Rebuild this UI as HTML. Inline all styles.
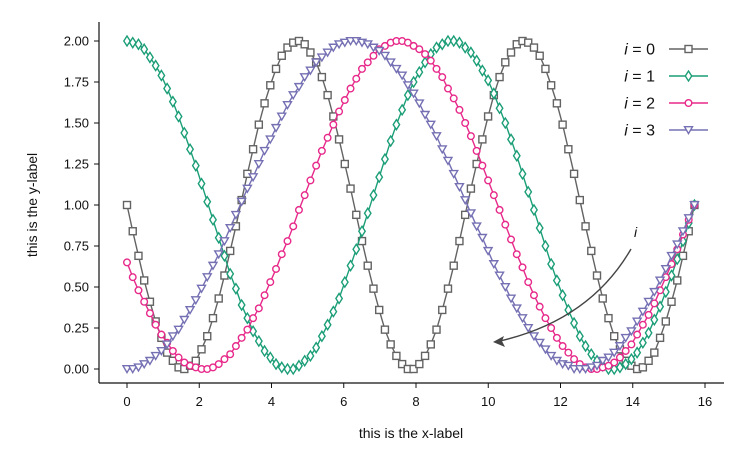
<!DOCTYPE html>
<html><head><meta charset="utf-8"><style>
body{margin:0;background:#fff;}
svg text{font-family:"Liberation Sans",sans-serif;fill:#111;}
</style></head><body>
<svg id="chart" width="750" height="463" viewBox="0 0 750 463" xmlns="http://www.w3.org/2000/svg">
<g id="axes"></g>
<g id="series"></g>
<g id="legend"></g>
<g>
<path d="M631,249 Q590,320 500,341" fill="none" stroke="#444" stroke-width="1.4"/>
<path d="M493,342 L504,336 L502,341 L505,347 Z" fill="#444"/>
<text x="634" y="237" font-family="Liberation Serif,serif" font-style="italic" font-size="14">i</text>
</g>
<text x="411" y="438" text-anchor="middle" font-size="14">this is the x-label</text>
<text transform="translate(37,205) rotate(-90)" text-anchor="middle" font-size="14">this is the y-label</text>
</svg>
<script>
const xTicks=[0,2,4,6,8,10,12,14,16];
const yTicks=[0,0.25,0.5,0.75,1,1.25,1.5,1.75,2];
const yTickLabels=["0.00","0.25","0.50","0.75","1.00","1.25","1.50","1.75","2.00"];
const xMax=15.708;
const seriesLabels=["0","1","2","3"];
const s0=[1.00,0.84,0.69,0.54,0.41,0.29,0.19,0.10,0.05,0.01,0.00,0.02,0.05,0.12,0.20,0.31,0.43,0.57,0.72,0.87,1.03,1.19,1.34,1.49,1.62,1.73,1.83,1.91,1.96,1.99,2.00,1.98,1.93,1.87,1.78,1.67,1.54,1.40,1.25,1.10,0.94,0.78,0.63,0.49,0.36,0.24,0.15,0.08,0.03,0.00,
0.00,0.03,0.08,0.15,0.24,0.36,0.49,0.63,0.78,0.94,1.10,1.25,1.40,1.54,1.67,1.78,1.87,1.93,1.98,2.00,1.99,1.96,1.91,1.83,1.73,1.62,1.49,1.34,1.19,1.03,0.87,0.72,0.57,0.43,0.31,0.20,0.12,0.05,0.02,0.00,0.01,0.05,0.10,0.19,0.29,0.41,0.54,0.69,0.84,1.00];
const s1=[2.00,1.99,1.98,1.95,1.90,1.85,1.79,1.71,1.63,1.54,1.44,1.34,1.24,1.13,1.02,0.91,0.80,0.69,0.58,0.49,0.39,0.31,0.23,0.17,0.11,0.07,0.03,0.01,0.00,0.00,0.02,0.05,0.08,0.13,0.20,0.27,0.35,0.43,0.53,0.63,0.73,0.84,0.95,1.06,1.17,1.28,1.39,1.49,1.58,1.67,
1.75,1.81,1.87,1.92,1.96,1.98,2.00,2.00,1.99,1.96,1.93,1.88,1.82,1.76,1.68,1.59,1.50,1.40,1.30,1.19,1.08,0.97,0.86,0.75,0.64,0.54,0.45,0.36,0.28,0.20,0.14,0.09,0.05,0.02,0.00,0.00,0.01,0.03,0.06,0.10,0.16,0.22,0.30,0.38,0.47,0.57,0.67,0.78,0.89,1.00];
const s2=[0.65,0.56,0.48,0.41,0.34,0.27,0.21,0.16,0.11,0.07,0.04,0.02,0.01,0.00,0.00,0.01,0.03,0.06,0.09,0.14,0.19,0.24,0.31,0.37,0.45,0.53,0.61,0.70,0.78,0.87,0.97,1.06,1.15,1.24,1.33,1.41,1.49,1.57,1.64,1.71,1.77,1.83,1.87,1.91,1.95,1.97,1.99,2.00,2.00,1.99,
1.97,1.95,1.92,1.88,1.83,1.78,1.71,1.65,1.58,1.50,1.42,1.33,1.24,1.15,1.06,0.97,0.88,0.79,0.70,0.62,0.53,0.45,0.38,0.31,0.25,0.19,0.14,0.10,0.06,0.03,0.01,0.00,0.00,0.01,0.02,0.04,0.07,0.11,0.15,0.21,0.27,0.33,0.40,0.48,0.56,0.64,0.73,0.82,0.91,1.00];
const s3=[0.00,0.00,0.01,0.03,0.05,0.08,0.11,0.15,0.20,0.24,0.30,0.36,0.42,0.49,0.56,0.63,0.70,0.78,0.86,0.94,1.02,1.10,1.17,1.25,1.33,1.40,1.47,1.54,1.61,1.67,1.72,1.78,1.82,1.87,1.90,1.93,1.96,1.98,1.99,2.00,2.00,1.99,1.98,1.96,1.94,1.91,1.87,1.83,1.79,1.73,
1.68,1.62,1.55,1.49,1.42,1.34,1.27,1.19,1.11,1.03,0.95,0.87,0.80,0.72,0.64,0.57,0.50,0.43,0.37,0.31,0.25,0.20,0.16,0.12,0.08,0.05,0.03,0.02,0.00,0.00,0.00,0.01,0.02,0.05,0.07,0.10,0.14,0.19,0.23,0.29,0.35,0.41,0.47,0.54,0.61,0.69,0.76,0.84,0.92,1.00];

const NS="http://www.w3.org/2000/svg";
const X=v=>127+v*36.125;
const Y=v=>369-v*164;
function mk(tag,parent,attrs){const e=document.createElementNS(NS,tag);for(const k in attrs)e.setAttribute(k,attrs[k]);parent.appendChild(e);return e;}
const axes=document.getElementById('axes');
let sp=mk('line',axes,{x1:99,y1:383,x2:724,y2:383,stroke:'#111','stroke-width':1.2});


sp=mk('line',axes,{x1:99,y1:22,x2:99,y2:383,stroke:'#111','stroke-width':1.2});


xTicks.forEach(t=>{
  const l=mk('line',axes,{x1:X(t),y1:383,x2:X(t),y2:388,stroke:'#111','stroke-width':1});
  
  
  const tx=mk('text',axes,{x:X(t),y:406,'text-anchor':'middle','font-size':13});
  tx.textContent=t;
  
  
});
yTicks.forEach((t,i)=>{
  const l=mk('line',axes,{x1:94,y1:Y(t),x2:99,y2:Y(t),stroke:'#111','stroke-width':1});
  
  
  const tx=mk('text',axes,{x:89,y:Y(t)+4.5,'text-anchor':'end','font-size':13});
  tx.textContent=yTickLabels[i];
  
  
});
const colors=['#636363','#1b9e77','#e7298a','#7570b3'];
const shapes=['square','diamond','circle','tri'];
function marker(g,shape,cx,cy,c){
  let e;
  if(shape==='square')e=mk('rect',g,{x:cx-3.5,y:cy-3.5,width:7,height:7});
  else if(shape==='diamond')e=mk('path',g,{d:`M${cx},${cy-5}L${cx+3.2},${cy}L${cx},${cy+5}L${cx-3.2},${cy}Z`});
  else if(shape==='circle')e=mk('circle',g,{cx:cx,cy:cy,r:3.3});
  else e=mk('path',g,{d:`M${cx-4},${cy-3.3}L${cx+4},${cy-3.3}L${cx},${cy+3.6}Z`});
  e.setAttribute('fill','#fff');e.setAttribute('stroke',c);e.setAttribute('stroke-width',1.4);
  return e;
}
const seriesG=document.getElementById('series');
[s0,s1,s2,s3].forEach((s,si)=>{
  const g=mk('g',seriesG,{});
  
  
  const n=s.length;
  const pts=s.map((v,k)=>[X(k*xMax/(n-1)),Y(v)]);
  const pl=mk('polyline',g,{points:pts.map(p=>p.join(',')).join(' '),fill:'none',stroke:colors[si],'stroke-width':1.4});
  
  
  pts.forEach(p=>{
    const m=marker(g,shapes[si],p[0],p[1],colors[si]);
    
    
  });
});
const legend=document.getElementById('legend');
const ly=[49,76,103,130];
seriesLabels.forEach((lab,i)=>{
  const g=mk('g',legend,{});
  
  
  const t=mk('text',g,{x:655,y:ly[i]+5.5,'text-anchor':'end','font-size':16,'font-family':'Liberation Serif,serif'});
  t.innerHTML='<tspan font-style="italic">i</tspan> = '+lab;
  mk('line',g,{x1:669,y1:ly[i],x2:708,y2:ly[i],stroke:colors[i],'stroke-width':1.4});
  marker(g,shapes[i],688.5,ly[i],colors[i]);
});
</script>
</body></html>
